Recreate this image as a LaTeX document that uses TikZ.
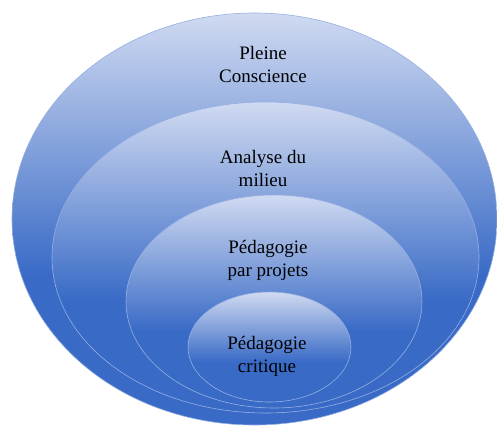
\documentclass[tikz,border=0pt]{standalone}
\usepackage{fontspec}
\setmainfont{Liberation Serif}
\definecolor{bdark}{RGB}{56,106,198}
\definecolor{blight}{RGB}{208,218,241}
\definecolor{bline}{RGB}{150,175,226}
\pgfdeclareverticalshading{bluegrad}{100bp}{color(0bp)=(bdark); color(25bp)=(bdark); color(43bp)=(bdark); color(75bp)=(blight); color(100bp)=(blight)}
\tikzset{
  ring/.style={shading=bluegrad, draw=bline, line width=0.6pt},
  lbl/.style={align=center, font=\fontsize{19}{23}\selectfont, text=black}
}
\begin{document}
\begin{tikzpicture}[x=1pt,y=-1pt]
\useasboundingbox (0,0) rectangle (497,425);
\path[ring] (254.5,219) ellipse [x radius=242.5, y radius=206];
\path[ring] (265.5,257.5) ellipse [x radius=213.5, y radius=155.5];
\path[ring] (274,301.5) ellipse [x radius=148, y radius=106.5];
\path[ring] (269.5,347) ellipse [x radius=81.5, y radius=55];
\node[lbl] (pc) at (263,64.5) {Pleine\\Conscience};
\node[lbl] (am) at (263,168.5) {Analyse du\\milieu};
\node[lbl] (pp) at (268,260.5) {Pédagogie\\par projets};
\node[lbl] (cr) at (267,356) {Pédagogie\\critique};
\end{tikzpicture}
\end{document}
